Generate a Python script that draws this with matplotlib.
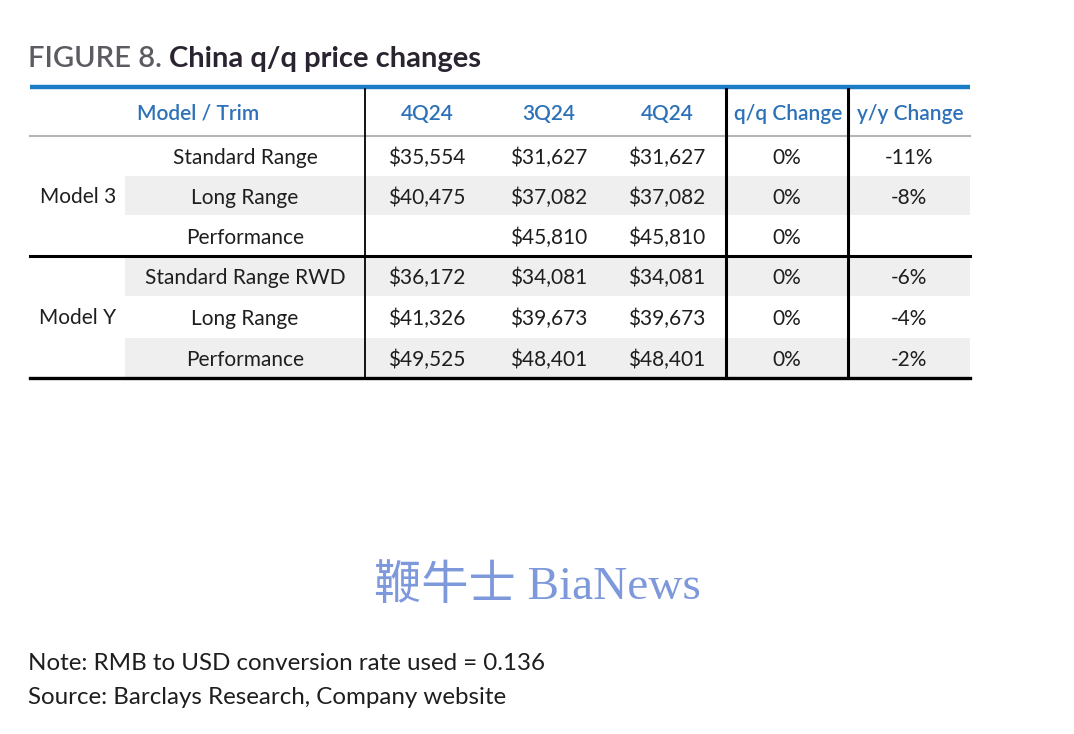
import matplotlib
matplotlib.use("Agg")
import matplotlib.pyplot as plt

# table data
models = ["Model 3", "Model Y"]
trims = [["Standard Range", "Long Range", "Performance"],
         ["Standard Range RWD", "Long Range", "Performance"]]
header = ["Model / Trim", "4Q24", "3Q24", "4Q24", "q/q Change", "y/y Change"]
price_a = [["$35,554", "$40,475", ""], ["$36,172", "$41,326", "$49,525"]]
price_b = [["$31,627", "$37,082", "$45,810"], ["$34,081", "$39,673", "$48,401"]]
price_c = [["$31,627", "$37,082", "$45,810"], ["$34,081", "$39,673", "$48,401"]]
qq_change = [["0%", "0%", "0%"], ["0%", "0%", "0%"]]
yy_change = [["-11%", "-8%", ""], ["-6%", "-4%", "-2%"]]

note = "Note: RMB to USD conversion rate used = 0.136"
source = "Source: Barclays Research, Company website"

W, H = 1074, 734
fig = plt.figure(figsize=(W / 100, H / 100), dpi=100)
ax = fig.add_axes([0, 0, 1, 1])
ax.set_xlim(0, W)
ax.set_ylim(H, 0)
ax.axis("off")

font = "Lato"
blue = "#2d72b8"
txt = "#1e1e1e"
fs = 15
dy = 2  # va=center sits a little high, nudge down

# title
t1 = ax.text(28, 57 + dy, "FIGURE 8. ", fontsize=21, color="#5b5b62", family=font,
             fontweight="semibold", va="center", ha="left")
fig.canvas.draw()
bb = t1.get_window_extent()
x_next = bb.x1
ax.text(x_next, 57 + dy, "China q/q price changes", fontsize=21, color="#2a2430",
        family=font, fontweight="bold", va="center", ha="left",
        transform=matplotlib.transforms.blended_transform_factory(
            matplotlib.transforms.IdentityTransform(), ax.transData))

left, right = 30, 970
top, head_bot = 87, 136
row_h = [40, 39, 41, 40, 42, 40]
row_y = [head_bot]
for h in row_h:
    row_y.append(row_y[-1] + h)

# shaded rows
for i in [1, 3, 5]:
    ax.fill_between([125, right], row_y[i], row_y[i + 1], color="#efefef", lw=0, zorder=0)

# horizontal lines
ax.plot([left, right], [top, top], color="#1b7cc6", lw=3.2, solid_capstyle="butt")
ax.plot([left, right], [head_bot, head_bot], color="#b5b5b5", lw=1.5)
ax.plot([left, right], [row_y[3], row_y[3]], color="black", lw=2.2)
ax.plot([left, right], [row_y[6], row_y[6]], color="black", lw=2.4)

# vertical lines
ax.plot([365, 365], [top + 2, row_y[6]], color="black", lw=1.3)
ax.plot([726, 726], [top + 2, row_y[6]], color="black", lw=2.2)
ax.plot([848, 848], [top + 2, row_y[6]], color="black", lw=2.2)

# header
head_x = [198, 427, 549, 667, 788, 910]
for x, lab in zip(head_x, header):
    ax.text(x, 112 + dy, lab, fontsize=fs, color=blue, family=font,
            fontweight="semibold", ha="center", va="center")

col_x = [245, 427, 549, 667, 787, 909]
model_x = 78
for m in range(2):
    rows = range(m * 3, m * 3 + 3)
    mid = (row_y[m * 3] + row_y[m * 3 + 3]) / 2
    ax.text(model_x, mid - 1 + dy, models[m], fontsize=fs, color=txt, family=font,
            ha="center", va="center")
    for k, r in enumerate(rows):
        yc = (row_y[r] + row_y[r + 1]) / 2 + dy
        vals = [trims[m][k], price_a[m][k], price_b[m][k], price_c[m][k],
                qq_change[m][k], yy_change[m][k]]
        for x, v in zip(col_x, vals):
            ax.text(x, yc, v, fontsize=fs, color=txt, family=font,
                    ha="center", va="center")

# watermark
ax.text(537, 587, "鞭牛士 BiaNews", fontsize=34, color="#7e98dc",
        family=["Liberation Serif", "Noto Sans CJK SC"], ha="center", va="center")

# notes
ax.text(28, 664, note, fontsize=17.4, color=txt, family=font, ha="left", va="center")
ax.text(28, 698, source, fontsize=17.4, color=txt, family=font, ha="left", va="center")

fig.savefig("out.png", dpi=100, facecolor="white")
